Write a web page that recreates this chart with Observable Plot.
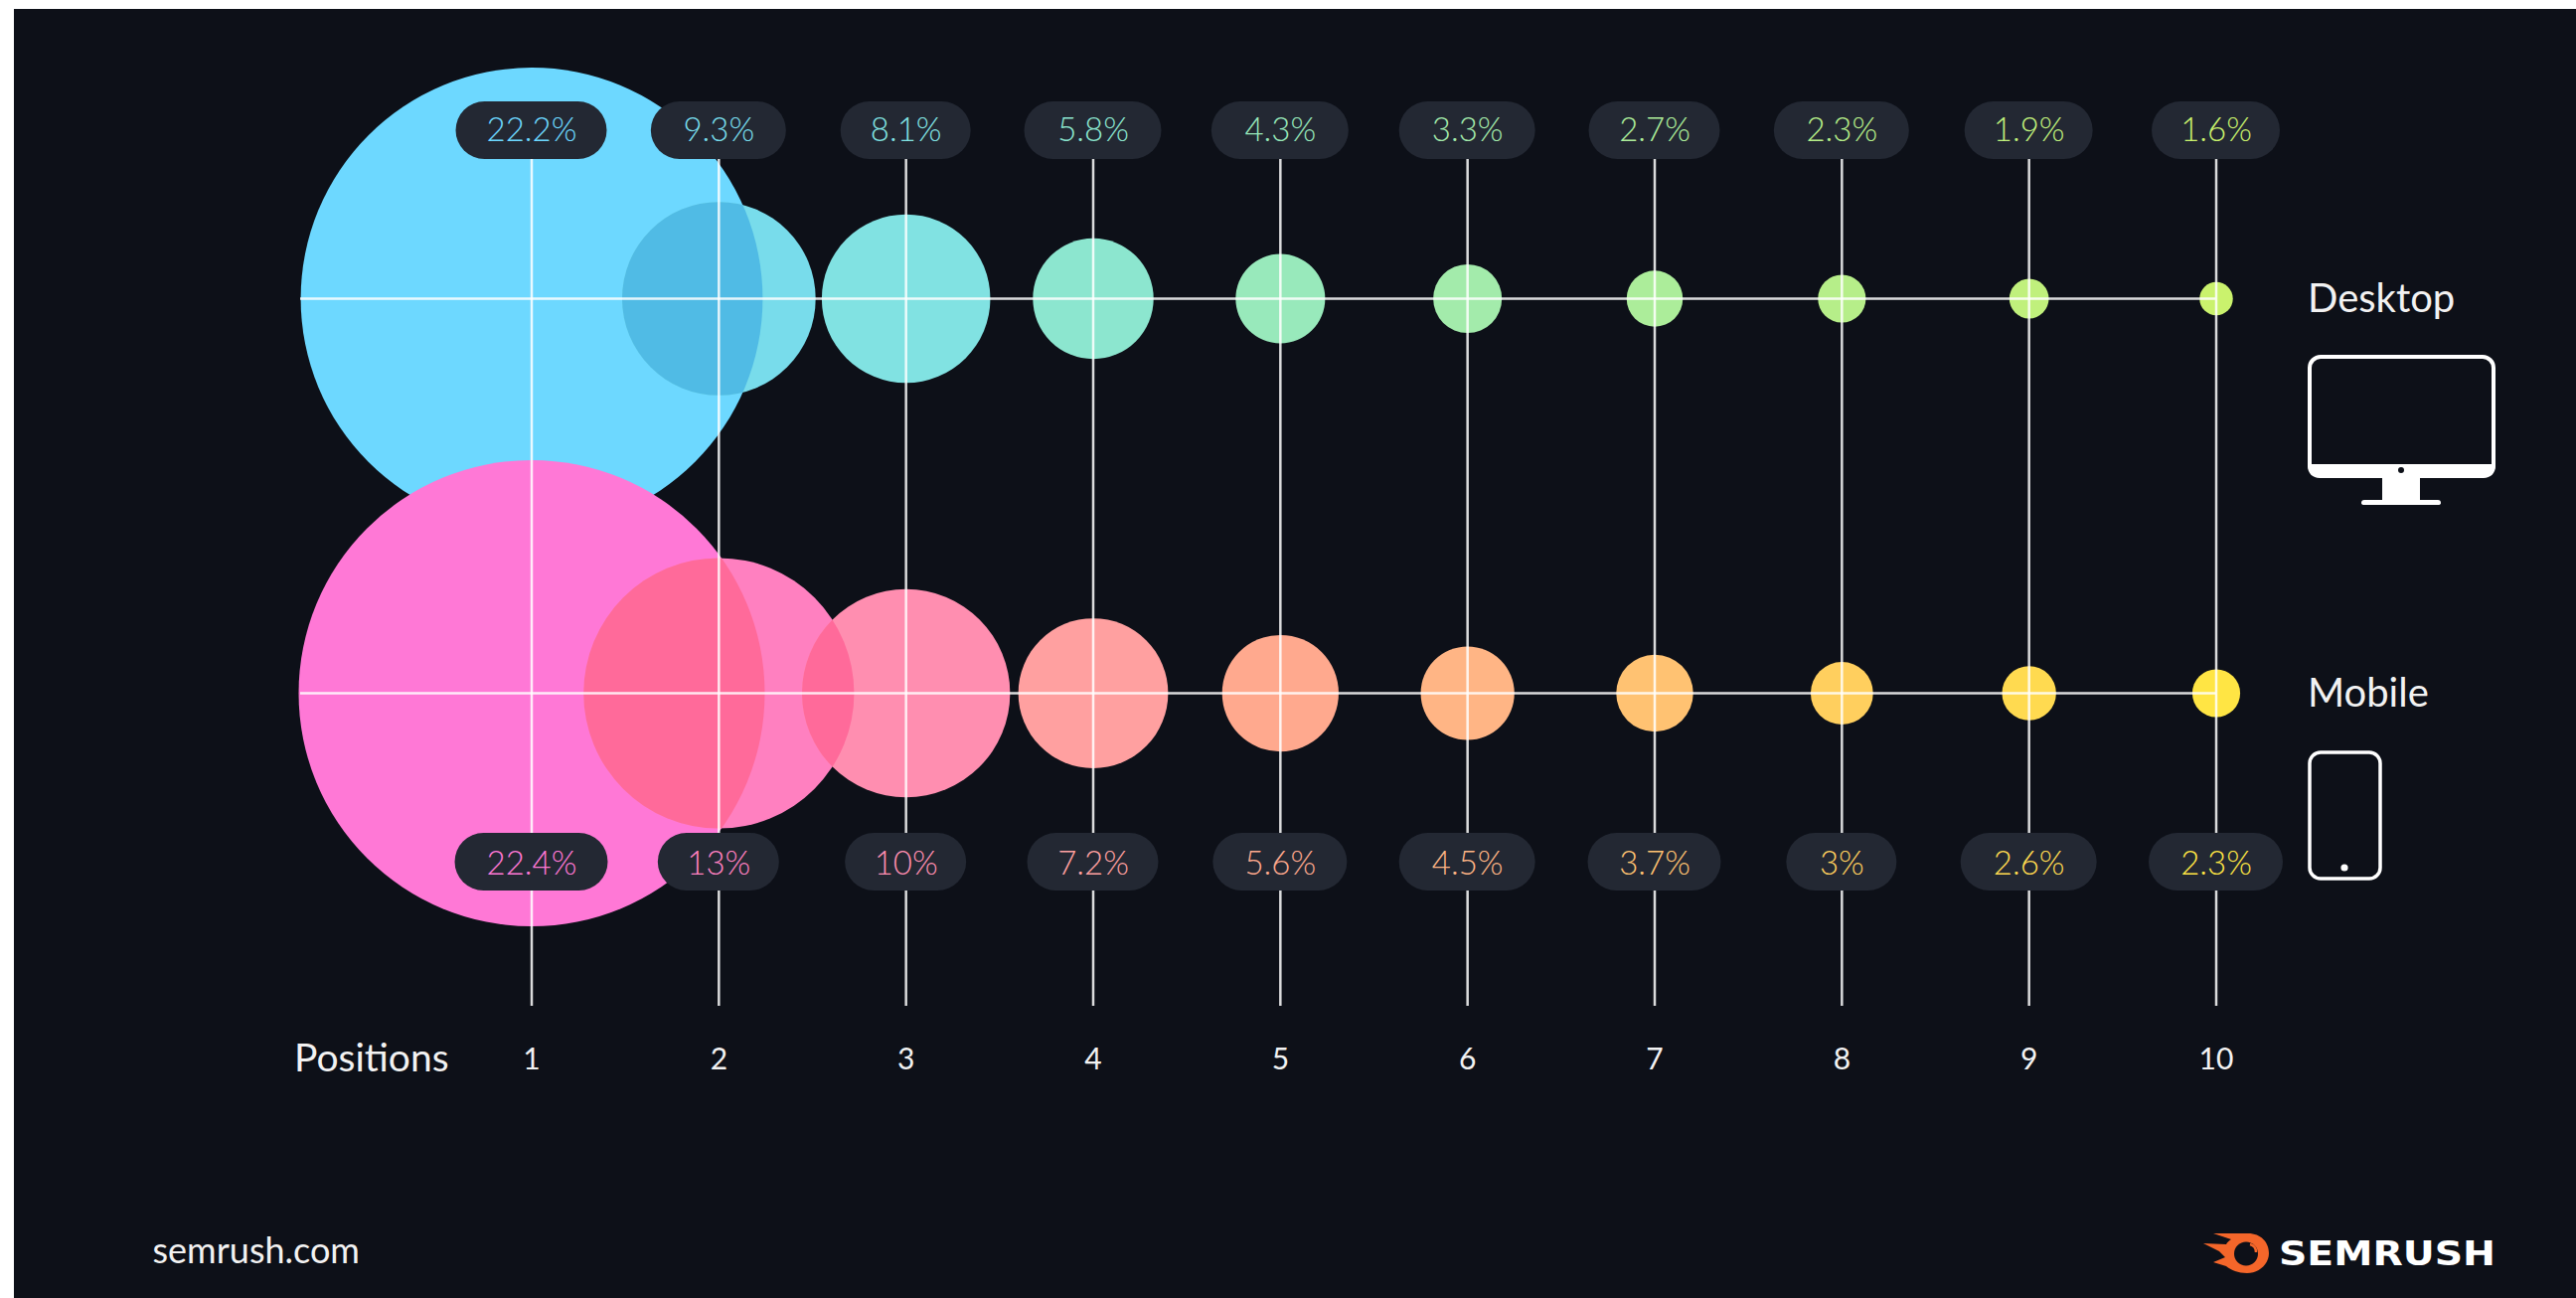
<!DOCTYPE html>
<html>
<head>
<meta charset="utf-8">
<script src="https://cdn.jsdelivr.net/npm/d3@7"></script>
<script src="https://cdn.jsdelivr.net/npm/@observablehq/plot@0.6"></script>
<style>
  html, body { margin: 0; padding: 0; background: #fff; width: 2592px; height: 1306px; overflow: hidden; }
  #panel { position: absolute; left: 14px; top: 9px; right: 0; bottom: 0; background: #0d1018; }
  #chart { position: absolute; left: 0; top: 0; }
  #chart svg { background: transparent; display: block; }
</style>
</head>
<body>
<div id="panel"></div>
<div id="chart"></div>
<script>
// ---- data ----
const positions = [1, 2, 3, 4, 5, 6, 7, 8, 9, 10];
const desktopValues = [22.2, 9.3, 8.1, 5.8, 4.3, 3.3, 2.7, 2.3, 1.9, 1.6];
const mobileValues = [22.4, 13, 10, 7.2, 5.6, 4.5, 3.7, 3, 2.6, 2.3];
const desktopLabels = ["22.2%", "9.3%", "8.1%", "5.8%", "4.3%", "3.3%", "2.7%", "2.3%", "1.9%", "1.6%"];
const mobileLabels = ["22.4%", "13%", "10%", "7.2%", "5.6%", "4.5%", "3.7%", "3%", "2.6%", "2.3%"];

// ---- styles ----
const desktopColors = ["#6dd8ff", "#78dceb", "#81e2e2", "#8ce6cf", "#98e9bb", "#a3ebab", "#aced9a", "#b6ee89", "#c0f07c", "#caf26d"];
const mobileColors = ["#ff78d6", "#ff80c0", "#ff8eb0", "#ffa0a0", "#ffa98e", "#ffb585", "#ffc272", "#ffcf5e", "#ffda50", "#ffe544"];
const desktopOverlap = "#50bbe5";
const mobileOverlap = "#ff6a9a";
const pillFill = "#232833";
const font = "Lato";

// ---- layout (page pixels) ----
const W = 2592, H = 1306;
const xFirst = 534.5, xLast = 2229.5, step = (xLast - xFirst) / 9;
const yDesktop = 300, yMobile = 697, yPillTop = 131, yPillBottom = 867, yLineEnd = 1012, yTicks = 1066;
const pillH = 58;
const desktopPillW = [152, 136, 131, 138, 138, 137, 132, 136, 129, 129];
const mobilePillW = [154, 122, 122, 132, 135, 137, 134, 111, 137, 135];
const lineLeft = 302;

const row = (values, labels, colors, widths, y, pillY, textY) => positions.map((pos, i) => ({
  pos, value: values[i], label: labels[i], color: colors[i], w: widths[i], y, pillY, textY
}));
const desktop = row(desktopValues, desktopLabels, desktopColors, desktopPillW, yDesktop, yPillTop, yPillTop);
const mobile = row(mobileValues, mobileLabels, mobileColors, mobilePillW, yMobile, yPillBottom, yPillBottom + 2);
const all = [...desktop, ...mobile];

// Overlap lens between neighbouring circles: the circle drawn again, clipped to its left neighbour.
let clipCount = 0;
function overlapMark(rowData, fill) {
  const data = rowData.slice(1).map((d, i) => ({...d, prev: rowData[i]}));
  return Plot.dot(data, {
    x: "pos", y: "y", r: "value", fill,
    render(index, scales, values, dimensions, context, next) {
      const g = next(index, scales, values, dimensions, context);
      g.querySelectorAll("circle").forEach((c, k) => {
        const p = data[index[k]].prev;
        const id = `lens-${clipCount++}`;
        const cp = document.createElementNS("http://www.w3.org/2000/svg", "clipPath");
        cp.setAttribute("id", id);
        const cc = document.createElementNS("http://www.w3.org/2000/svg", "circle");
        cc.setAttribute("cx", scales.x(p.pos));
        cc.setAttribute("cy", scales.y(p.y));
        cc.setAttribute("r", scales.r(p.value));
        cp.appendChild(cc);
        g.appendChild(cp);
        c.setAttribute("clip-path", `url(#${id})`);
      });
      return g;
    }
  });
}

// Device icons and logo, drawn in the same SVG.
function decorations() {
  const g = d3.create("svg:g");
  // monitor
  g.append("rect").attr("x", 2324).attr("y", 359).attr("width", 185).attr("height", 119).attr("rx", 11)
    .attr("fill", "none").attr("stroke", "#fff").attr("stroke-width", 4);
  g.append("path").attr("d", "M2322,467 H2511 V469 C2511,476 2506,481 2499,481 H2435 V503 H2453 Q2456,503 2456,506 Q2456,508 2453,508 H2379 Q2376,508 2376,506 Q2376,503 2379,503 H2397 V481 H2334 C2327,481 2322,476 2322,469 Z")
    .attr("fill", "#fff");
  g.append("circle").attr("cx", 2416).attr("cy", 473).attr("r", 3).attr("fill", "#0d1018");
  // phone
  g.append("rect").attr("x", 2324).attr("y", 757).attr("width", 71).attr("height", 127).attr("rx", 11)
    .attr("fill", "none").attr("stroke", "#fff").attr("stroke-width", 3.5);
  g.append("circle").attr("cx", 2359).attr("cy", 873).attr("r", 3.6).attr("fill", "#fff");
  // logo flame
  g.append("path").attr("d", "M2227,1241 H2262 C2275,1241 2283,1250 2283,1261 C2283,1272 2273,1281 2261,1281 C2252,1281 2245,1278 2240,1274 L2227,1270 L2239,1265 L2233,1259 L2217,1251 L2240,1252 C2241,1250 2243,1248 2245,1247 Z")
    .attr("fill", "#f4662a");
  g.append("circle").attr("cx", 2260).attr("cy", 1261.5).attr("r", 12).attr("fill", "#0d1018");
  g.append("path").attr("d", "M2264,1252 C2268,1253 2270,1256 2270,1260").attr("fill", "none").attr("stroke", "#f4662a").attr("stroke-width", 2.5);
  g.append("text").text("SEMRUSH").attr("x", 2293).attr("y", 1273).attr("text-anchor", "start")
    .attr("textLength", 218).attr("lengthAdjust", "spacingAndGlyphs")
    .attr("font-family", "'DejaVu Sans'").attr("font-weight", 700).attr("font-size", 34).attr("fill", "#fff");
  return g.node();
}

const textCommon = {fontFamily: font, fill: "#f2f2f2"};

const plot = Plot.plot({
  width: W, height: H,
  marginTop: 0, marginRight: 0, marginBottom: 0, marginLeft: 0,
  style: {background: "transparent", overflow: "visible"},
  x: {type: "linear", domain: [1, 10], range: [xFirst, xLast], axis: null},
  y: {type: "linear", domain: [0, H], range: [0, H], axis: null},
  r: {type: "linear", domain: [0, 22.4], range: [0, 234.5]},
  color: {type: "identity"},
  marks: [
    // circles
    Plot.dot(desktop, {x: "pos", y: "y", r: "value", fill: "color"}),
    overlapMark(desktop, desktopOverlap),
    Plot.dot(mobile, {x: "pos", y: "y", r: "value", fill: "color"}),
    overlapMark(mobile, mobileOverlap),
    // grid lines
    Plot.ruleX(positions, {x: d => d, y1: yPillTop, y2: yLineEnd, stroke: "#fff", strokeOpacity: 0.85, strokeWidth: 2.5}),
    Plot.ruleY([yDesktop, yMobile], {y: d => d, x1: 1 - (xFirst - lineLeft) / step, x2: 10, stroke: "#fff", strokeOpacity: 0.85, strokeWidth: 2.5}),
    // pills
    Plot.rect(all, {
      x1: d => d.pos - d.w / 2 / step, x2: d => d.pos + d.w / 2 / step,
      y1: d => d.pillY - pillH / 2, y2: d => d.pillY + pillH / 2,
      fill: pillFill, rx: 29
    }),
    Plot.text(all, {x: "pos", y: "textY", text: "label", fill: "color", fontFamily: font, fontWeight: 300, fontSize: 33, textAnchor: "middle"}),
    // tick labels
    Plot.text(positions, {x: d => d, y: yTicks, text: d => String(d), fontSize: 30, ...textCommon}),
    Plot.text(["Positions"], {x: 1, y: yTicks - 1, dx: -239, text: d => d, textAnchor: "start", fontSize: 39, ...textCommon}),
    // legend labels
    Plot.text(["Desktop"], {x: 10, y: yDesktop + 1, dx: 92, text: d => d, textAnchor: "start", fontSize: 40, ...textCommon}),
    Plot.text(["Mobile"], {x: 10, y: yMobile + 1, dx: 92, text: d => d, textAnchor: "start", fontSize: 40, ...textCommon}),
    // footer
    Plot.text(["semrush.com"], {x: 1, y: 1259, dx: -381.5, text: d => d, textAnchor: "start", fontSize: 36, ...textCommon}),
    () => decorations()
  ]
});
document.getElementById("chart").appendChild(plot);
</script>
</body>
</html>
